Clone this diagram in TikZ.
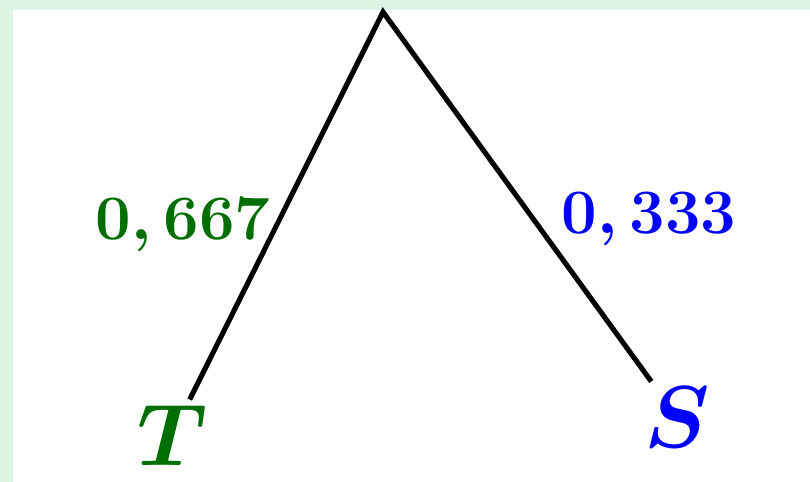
\RequirePackage{fix-cm}
\documentclass[tikz,border=0pt]{standalone}
\usepackage{amsmath}
\usepackage{xcolor}
\usepackage{tikz}
\usetikzlibrary{positioning}
\definecolor{TreeGreen}{RGB}{0,110,0}
\definecolor{TreeBlue}{RGB}{0,0,255}
\definecolor{PanelGreen}{RGB}{221,245,229}

\tikzset{
  leaf/.style={inner sep=0.1cm, font=\fontsize{50}{60}\selectfont\boldmath},
  prob/.style={inner sep=2pt, font=\fontsize{36}{42}\selectfont\boldmath},
  branch/.style={line width=2.9pt, black}
}

\begin{document}
\begin{tikzpicture}[x=0.02cm, y=-0.02cm]
    \useasboundingbox (0,0) rectangle (810,482);
    \fill[PanelGreen] (0,0) rectangle (810,482);
    \fill[white] (13,10) rectangle (810,482);
    % the two branches
    \coordinate (root) at (383,12);
    \node[leaf, TreeGreen] (T) at (172,435) {$T$};
    \node[leaf, TreeBlue] (S) at (677,417) {$S$};
    \draw[branch] (T) -- node[prob, TreeGreen, pos=0.45, left=0cm] (pT) {$0,667$}
        (root) -- node[prob, TreeBlue, pos=0.56, right=0.45cm] (pS) {$0,333$} (S);
\end{tikzpicture}
\end{document}
